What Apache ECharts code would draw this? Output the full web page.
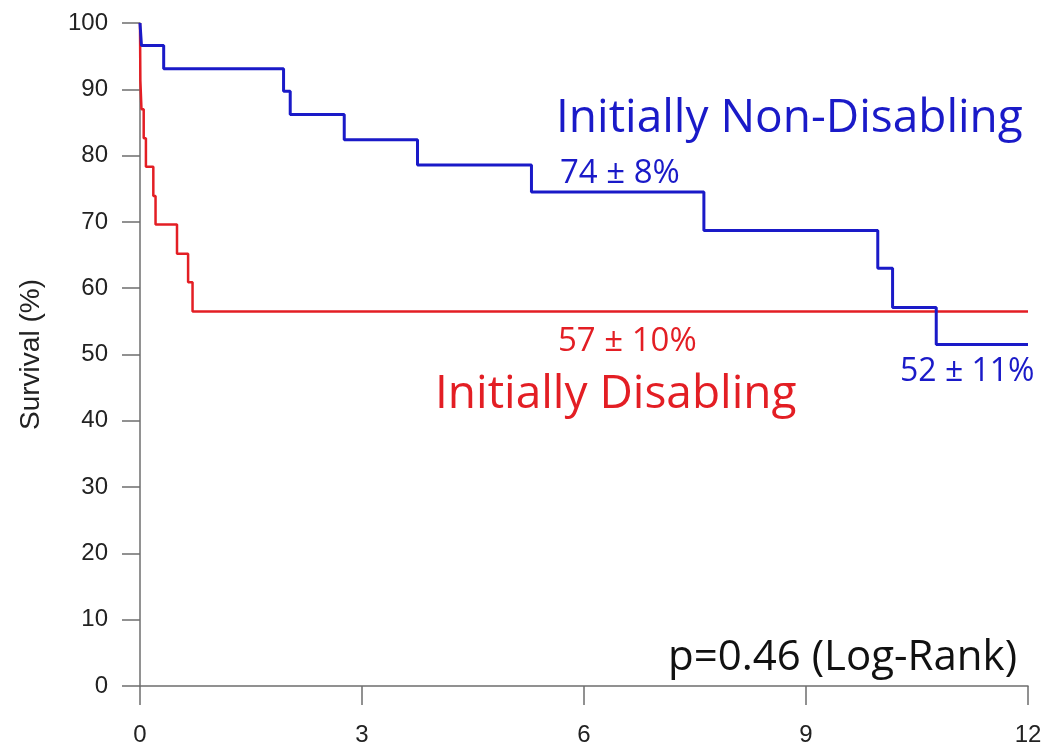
<!DOCTYPE html>
<html><head><meta charset="utf-8">
<script src="https://cdn.jsdelivr.net/npm/echarts@6/dist/echarts.min.js"></script>
<style>html,body{margin:0;padding:0;background:#fff}#c{width:1063px;height:747px}</style>
</head><body><div id="c"></div>
<script>
// Kaplan-Meier step points: [time, survival %]
const blueTimes = [0, 0.02, 0.32, 1.94, 2.03, 2.76, 3.75, 5.29, 7.62, 9.97, 10.17, 10.76, 12];
const blueSurv  = [100, 96.6, 93.1, 89.7, 86.2, 82.4, 78.6, 74.5, 68.7, 63.0, 57.1, 51.5, 51.5];
const redTimes  = [0, 0.005, 0.02, 0.05, 0.08, 0.18, 0.21, 0.50, 0.65, 0.71, 12];
const redSurv   = [100, 91.3, 87.0, 82.6, 78.3, 73.9, 69.6, 65.2, 60.9, 56.5, 56.5];
const xTicks = [0, 3, 6, 9, 12];
const yTicks = [0, 10, 20, 30, 40, 50, 60, 70, 80, 90, 100];

const blueData = blueTimes.map((t, i) => [t, blueSurv[i]]);
const redData = redTimes.map((t, i) => [t, redSurv[i]]);

const chart = echarts.init(document.getElementById('c'), null, {renderer: 'canvas'});
const axisCol = '#6e6e6e';
const axFont = '"Liberation Sans", Arial, sans-serif';
const annFont = '"Open Sans", Lato, sans-serif';
chart.setOption({
  backgroundColor: '#fff',
  animation: false,
  grid: {left: 140, right: 35, top: 23, bottom: 57},
  xAxis: {
    type: 'value', min: 0, max: 12, interval: 3,
    axisLine: {show: true, lineStyle: {color: axisCol, width: 1.5}},
    axisTick: {show: true, length: 19, lineStyle: {color: axisCol, width: 1.5}},
    axisLabel: {color: '#222', fontSize: 24, fontFamily: axFont, margin: 37,
      formatter: v => xTicks.includes(v) ? String(v) : ''},
    splitLine: {show: false}
  },
  yAxis: {
    type: 'value', min: 0, max: 100, interval: 10,
    name: 'Survival (%)', nameLocation: 'middle', nameGap: 95,
    nameTextStyle: {color: '#222', fontSize: 28, fontFamily: axFont},
    axisLine: {show: true, lineStyle: {color: axisCol, width: 1.5}},
    axisTick: {show: true, length: 18, lineStyle: {color: axisCol, width: 1.5}},
    axisLabel: {color: '#222', fontSize: 24, fontFamily: axFont, margin: 32,
      formatter: v => yTicks.includes(v) ? String(v) : ''},
    splitLine: {show: false}
  },
  series: [
    {type: 'line', step: 'end', data: redData, symbol: 'none', z: 2,
     lineStyle: {color: '#e31e24', width: 2.5}},
    {type: 'line', step: 'end', data: blueData, symbol: 'none', z: 3,
     lineStyle: {color: '#1a1ac8', width: 3}}
  ],
  graphic: [
    {type: 'text', left: 556, top: 96, style: {text: 'Initially Non-Disabling', fill: '#1a1ac8', font: '46px ' + annFont}},
    {type: 'text', left: 560, top: 157, style: {text: '74 ± 8%', fill: '#1a1ac8', font: '33px ' + annFont}},
    {type: 'text', left: 558, top: 325, style: {text: '57 ± 10%', fill: '#e31e24', font: '33px ' + annFont}},
    {type: 'text', left: 435, top: 372, style: {text: 'Initially Disabling', fill: '#e31e24', font: '46px ' + annFont}},
    {type: 'text', left: 900, top: 356, style: {text: '52 ± 11%', fill: '#1a1ac8', font: '32px ' + annFont}},
    {type: 'text', left: 668, top: 637, style: {text: 'p=0.46 (Log-Rank)', fill: '#111', font: '42px ' + annFont}}
  ]
});
</script></body></html>
